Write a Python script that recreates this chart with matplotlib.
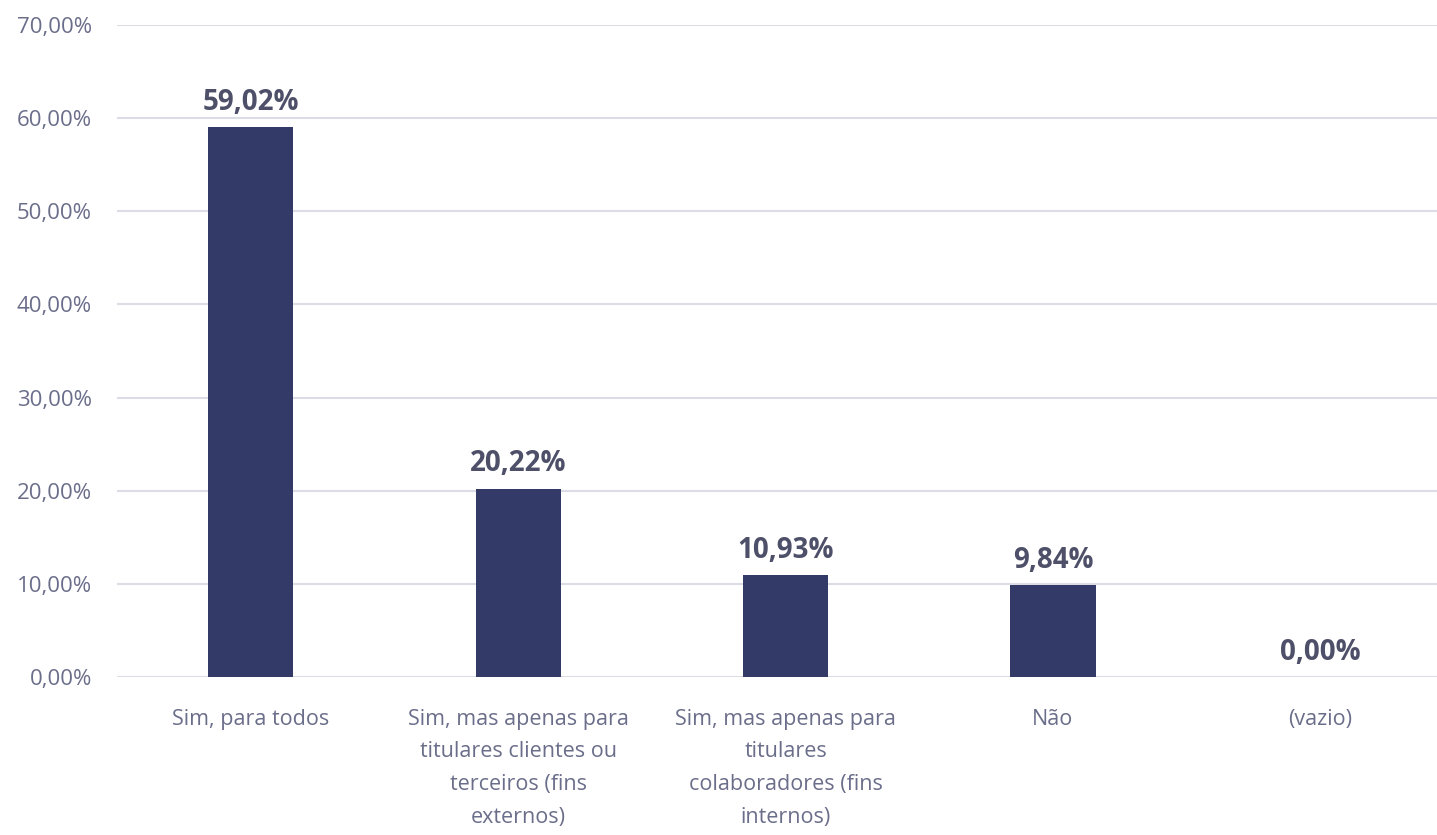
import numpy as np
import matplotlib.pyplot as plt

categories = ['Sim, para todos',
              'Sim, mas apenas para\ntitulares clientes ou\nterceiros (fins\nexternos)',
              'Sim, mas apenas para\ntitulares\ncolaboradores (fins\ninternos)',
              'Não',
              '(vazio)']
values = [59.02, 20.22, 10.93, 9.84, 0.00]
yticks = [0, 10, 20, 30, 40, 50, 60, 70]

bar_color = '#333a68'
tick_color = '#6b6e8a'
label_color = '#4d5068'
grid_color = '#dcdce6'

plt.rcParams['font.family'] = ['Open Sans', 'DejaVu Sans']

fig = plt.figure(figsize=(14.37, 8.35), dpi=100)
ax = fig.add_axes([117 / 1437, 1 - 677 / 835, 1 - 117 / 1437, (677 - 25) / 835])

x = np.arange(len(categories))
bars = ax.bar(x, values, width=0.318, color=bar_color, zorder=3)

ax.set_ylim(0, 70)
ax.set_xlim(-0.5, 4.436)
ax.set_yticks(yticks)
ax.set_yticklabels(['{:.2f}%'.format(v).replace('.', ',') for v in yticks])
ax.set_xticks(x)
ax.set_xticklabels(categories, linespacing=1.72)

ax.yaxis.grid(True, color=grid_color, linewidth=1.5, zorder=0)
for s in ax.spines.values():
    s.set_visible(False)
ax.tick_params(axis='y', length=0, pad=18, labelsize=16, labelcolor=tick_color)
ax.tick_params(axis='x', length=0, pad=23, labelsize=15.5, labelcolor=tick_color)
for lbl in ax.get_xticklabels():
    lbl.set_verticalalignment('top')

# value labels above each bar
for rect, v in zip(bars, values):
    ax.annotate('{:.2f}%'.format(v).replace('.', ','),
                xy=(rect.get_x() + rect.get_width() / 2, rect.get_height()),
                xytext=(0, 7.5 if v > 0 else 7), textcoords='offset points',
                ha='center', va='bottom', fontsize=20, fontweight='bold',
                color=label_color)

fig.savefig('out.png', dpi=100)
